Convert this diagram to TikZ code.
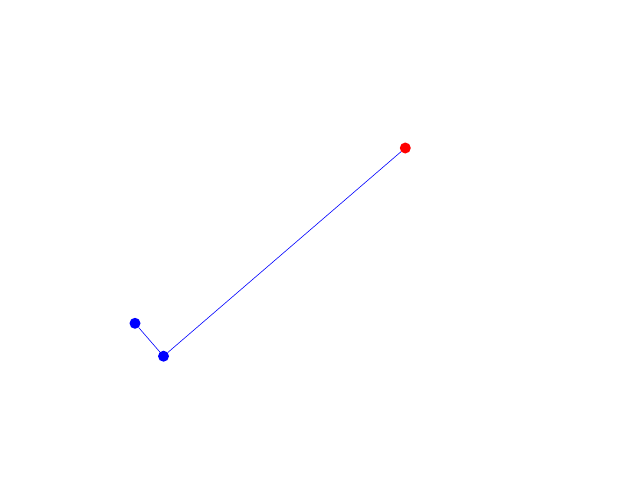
\documentclass[tikz,border=0pt]{standalone}
\begin{document}
\begin{tikzpicture}[x=1pt,y=-1pt,
  dot/.style={circle,inner sep=0pt,minimum size=11pt,fill=#1},
  link/.style={draw=blue,line width=0.6pt}]
\useasboundingbox[fill=white] (0,0) rectangle (640,480);
\node[dot=blue] (a) at (135,323.3) {};
\node[dot=blue] (b) at (163.5,356.2) {};
\node[dot=red] (c) at (405.3,148) {};
\draw[link] (a) -- (b) -- (c);
\end{tikzpicture}
\end{document}
